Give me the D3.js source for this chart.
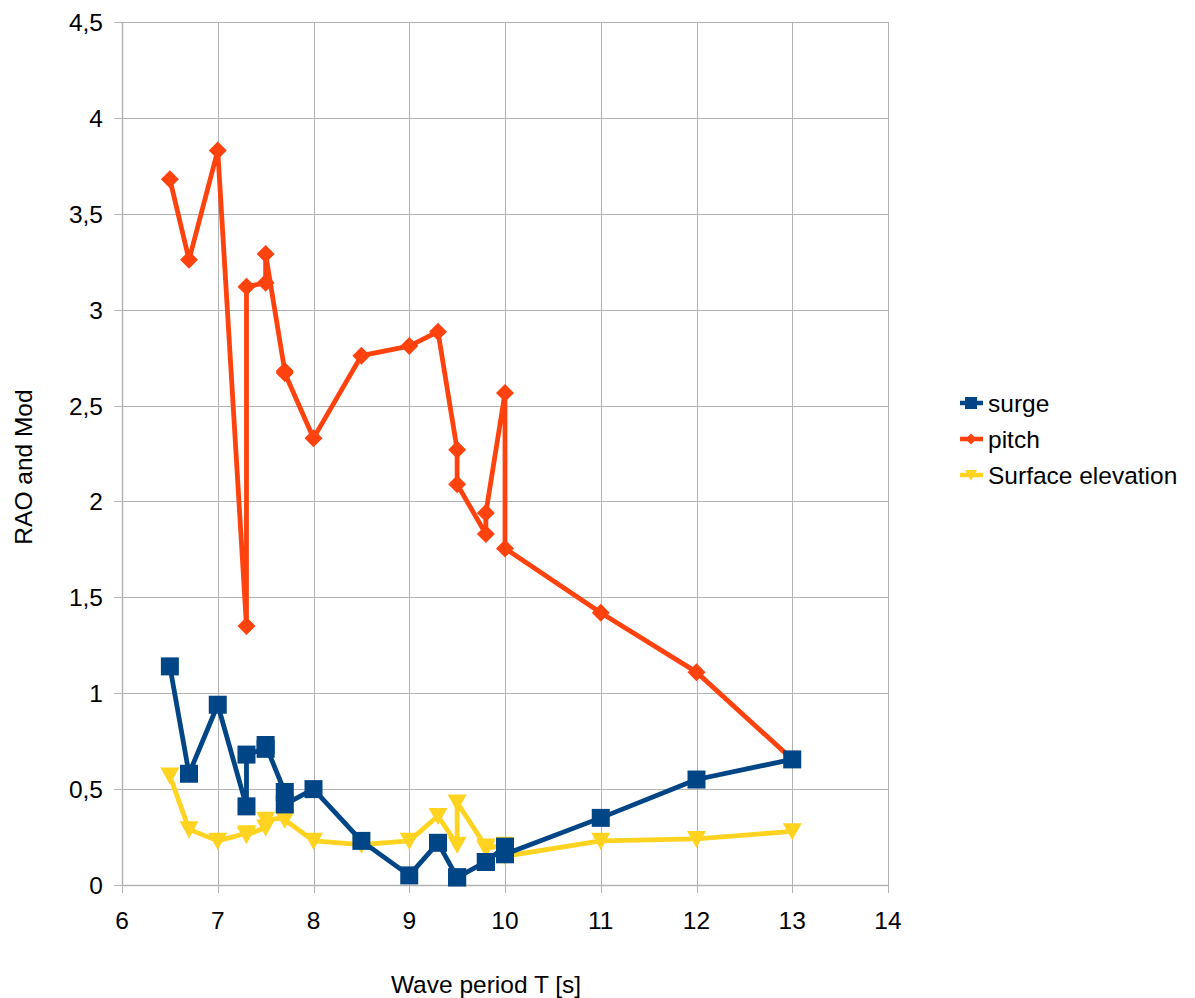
<!DOCTYPE html>
<html>
<head>
<meta charset="utf-8">
<script src="https://cdn.jsdelivr.net/npm/d3@7"></script>
<style>
  html, body { margin: 0; padding: 0; background: #fff; }
  svg { display: block; font-family: "Liberation Sans", Arial, sans-serif; }
</style>
</head>
<body>
<svg id="chart" width="1195" height="998"></svg>
<script>
// ---- Data ----
const periods = [6.5, 6.7, 7, 7.3, 7.3, 7.5, 7.5, 7.7, 7.7, 8, 8.5, 9, 9.3, 9.5, 9.5, 9.8, 9.8, 10, 10, 11, 12, 13];
const surge   = [1.14, 0.58, 0.94, 0.41, 0.68, 0.71, 0.73, 0.485, 0.42, 0.50, 0.23, 0.05, 0.22, 0.04, 0.04, 0.12, 0.12, 0.20, 0.16, 0.35, 0.55, 0.655];
const pitch   = [3.68, 3.26, 3.83, 1.35, 3.12, 3.14, 3.29, 2.68, 2.67, 2.33, 2.76, 2.81, 2.885, 2.27, 2.09, 1.83, 1.94, 2.565, 1.755, 1.42, 1.11, 0.655];
const surface = [0.57, 0.29, 0.23, 0.27, 0.26, 0.30, 0.34, 0.35, 0.34, 0.23, 0.21, 0.23, 0.36, 0.21, 0.43, 0.20, 0.19, 0.21, 0.15, 0.23, 0.24, 0.28];
const seriesNames = ["surge", "pitch", "Surface elevation"];
const xTicks = [6, 7, 8, 9, 10, 11, 12, 13, 14];
const yTicks = [0, 0.5, 1, 1.5, 2, 2.5, 3, 3.5, 4, 4.5];
const xTitle = "Wave period T [s]";
const yTitle = "RAO and Mod";

// ---- Layout ----
const svg = d3.select("#chart");
const pLeft = 122, pRight = 888, pTop = 22, pBottom = 885;
const x = d3.scaleLinear().domain([6, 14]).range([pLeft, pRight]);
const y = d3.scaleLinear().domain([0, 4.5]).range([pBottom, pTop]);
const gridColor = "#b3b3b3";
const fs = 24.5;
const fmt = v => String(v).replace(".", ",");

// Gridlines
svg.append("g").selectAll("line").data(xTicks).join("line")
  .attr("x1", d => Math.round(x(d)) + 0.5).attr("x2", d => Math.round(x(d)) + 0.5)
  .attr("y1", pTop).attr("y2", pBottom + 8)
  .attr("stroke", gridColor).attr("stroke-width", 1);
svg.append("g").selectAll("line").data(yTicks).join("line")
  .attr("y1", d => Math.round(y(d)) + 0.5).attr("y2", d => Math.round(y(d)) + 0.5)
  .attr("x1", pLeft - 8).attr("x2", pRight)
  .attr("stroke", gridColor).attr("stroke-width", 1);
// Axes lines
svg.append("line").attr("x1", pLeft + 0.5).attr("x2", pLeft + 0.5).attr("y1", pTop).attr("y2", pBottom)
  .attr("stroke", gridColor).attr("stroke-width", 1.5);
svg.append("line").attr("x1", pLeft).attr("x2", pRight).attr("y1", Math.round(y(0)) + 0.5).attr("y2", Math.round(y(0)) + 0.5)
  .attr("stroke", gridColor).attr("stroke-width", 1.5);

// Tick labels
svg.append("g").selectAll("text").data(yTicks).join("text")
  .attr("x", pLeft - 19).attr("y", d => y(d) + 9)
  .attr("text-anchor", "end").attr("font-size", fs).attr("fill", "#000")
  .text(fmt);
svg.append("g").selectAll("text").data(xTicks).join("text")
  .attr("x", d => x(d)).attr("y", pBottom + 44)
  .attr("text-anchor", "middle").attr("font-size", fs).attr("fill", "#000")
  .text(fmt);

// Axis titles
svg.append("text").attr("x", 486).attr("y", 993)
  .attr("text-anchor", "middle").attr("font-size", fs).text(xTitle);
svg.append("text").attr("transform", "translate(32,467) rotate(-90)")
  .attr("text-anchor", "middle").attr("font-size", fs).text(yTitle);

// Marker shapes
const shapes = {
  square: s => `M${-s},${-s}H${s}V${s}H${-s}Z`,
  diamond: s => `M0,${-s}L${s},0L0,${s}L${-s},0Z`,
  tri: s => `M${-s},${-s * 0.85}H${s}L0,${s * 0.95}Z`
};
const series = [
  { name: seriesNames[0], values: surge,   color: "#004586", shape: "square",  size: 9 },
  { name: seriesNames[1], values: pitch,   color: "#ff420e", shape: "diamond", size: 9 },
  { name: seriesNames[2], values: surface, color: "#ffd320", shape: "tri",     size: 9.5 }
];
const lineGen = d3.line().x(d => x(d[0])).y(d => y(d[1]));

// Draw in reverse order so surge is on top
[series[2], series[1], series[0]].forEach(s => {
  const pts = periods.map((p, i) => [p, s.values[i]]);
  const g = svg.append("g");
  g.append("path").attr("d", lineGen(pts)).attr("fill", "none")
    .attr("stroke", s.color).attr("stroke-width", 4.8).attr("stroke-linejoin", "round");
  g.selectAll("path.m").data(pts).join("path").attr("class", "m")
    .attr("transform", d => `translate(${x(d[0])},${y(d[1])})`)
    .attr("d", shapes[s.shape](s.size)).attr("fill", s.color);
});

// Legend
const legY = [403, 439, 475];
series.forEach((s, i) => {
  const g = svg.append("g").attr("transform", `translate(0,${legY[i]})`);
  g.append("line").attr("x1", 960).attr("x2", 983).attr("y1", 0).attr("y2", 0)
    .attr("stroke", s.color).attr("stroke-width", 4.5);
  g.append("path").attr("transform", "translate(971,0)")
    .attr("d", shapes[s.shape](s.shape === "diamond" ? 5.5 : 6)).attr("fill", s.color);
  g.append("text").attr("x", 988).attr("y", 8.5).attr("font-size", fs).text(s.name);
});
</script>
</body>
</html>
